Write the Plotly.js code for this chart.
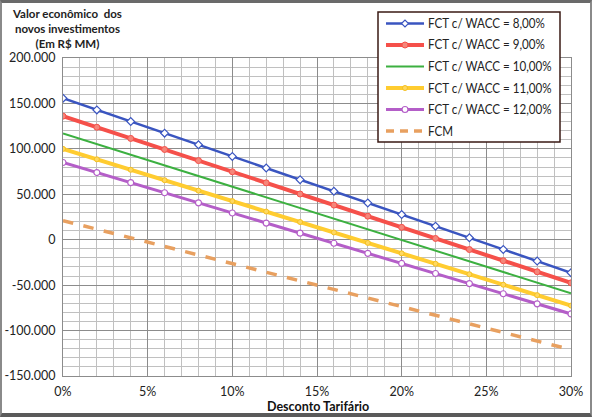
<!DOCTYPE html>
<html>
<head>
<meta charset="utf-8">
<script src="https://cdn.plot.ly/plotly-3.0.1.min.js"></script>
<style>
html,body{margin:0;padding:0;background:#fff;}
#chart{width:592px;height:417px;position:relative;}
#frame{position:absolute;left:0;top:0;width:592px;height:417px;box-sizing:border-box;border:2px solid #8a8a8a;border-top:3px solid #6a6a6a;border-bottom:4px solid #5a5a5a;pointer-events:none;}
</style>
</head>
<body>
<div id="chart"></div>
<div id="frame"></div>
<script>
// Desconto tarifário (%)
const desconto = [0, 2, 4, 6, 8, 10, 12, 14, 16, 18, 20, 22, 24, 26, 28, 30];
// Valor econômico (R$ MM)
const wacc8  = [155700, 142900, 130100, 117300, 104500, 91700, 78900, 66100, 53300, 40500, 27700, 14900, 2100, -10700, -23500, -36300];
const wacc9  = [136000, 123800, 111500, 99300, 87100, 74800, 62600, 50300, 38100, 25900, 13600, 1400, -10800, -23100, -35300, -47500];
const wacc10 = [117000, 105300, 93500, 81800, 70100, 58300, 46600, 34900, 23100, 11400, -300, -12000, -23800, -35500, -47200, -59000];
const wacc11 = [100000, 88500, 77000, 65500, 54000, 42500, 31000, 19500, 8000, -3500, -15000, -26500, -38000, -49500, -61000, -72500];
const wacc12 = [85000, 73900, 62800, 51700, 40600, 29400, 18300, 7200, -3900, -15000, -26100, -37200, -48300, -59500, -70600, -81700];
const fcm    = [21000, 11500, 2100, -7400, -16900, -26300, -35800, -45300, -54700, -64200, -73700, -83100, -92600, -102100, -111500, -121000];

const seriesNames = ["FCT c/ WACC = 8,00%", "FCT c/ WACC = 9,00%", "FCT c/ WACC = 10,00%", "FCT c/ WACC = 11,00%", "FCT c/ WACC = 12,00%", "FCM"];

const xTickVals = [0, 5, 10, 15, 20, 25, 30];
const xTickText = ["0%", "5%", "10%", "15%", "20%", "25%", "30%"];
const yTickVals = [200000, 150000, 100000, 50000, 0, -50000, -100000, -150000];
const yTickText = ["200.000", "150.000", "100.000", "50.000", "0", "-50.000", "-100.000", "-150.000"];

// styles
const styles = [
  {line: {color: "#3a55c0", width: 2.5}, marker: {symbol: "diamond", size: 6, color: "#ffffff", line: {color: "#3a55c0", width: 1.2}}},
  {line: {color: "#f5504a", width: 4}, marker: {symbol: "circle", size: 6, color: "#f5867a", line: {color: "#f5504a", width: 1}}},
  {line: {color: "#3cb040", width: 2}, marker: null},
  {line: {color: "#ffcc30", width: 4}, marker: {symbol: "circle", size: 5, color: "#ffd860", line: {color: "#f5c020", width: 1}}},
  {line: {color: "#b45ec8", width: 3}, marker: {symbol: "circle", size: 6, color: "#ffffff", line: {color: "#b45ec8", width: 1.2}}},
  {line: {color: "#e8a060", width: 3.5, dash: "dash"}, marker: null}
];
const seriesY = [wacc8, wacc9, wacc10, wacc11, wacc12, fcm];

const traces = seriesY.map((ys, i) => {
  const t = {x: desconto, y: ys, name: seriesNames[i], showlegend: false,
             mode: styles[i].marker ? "lines+markers" : "lines", line: styles[i].line};
  if (styles[i].marker) t.marker = styles[i].marker;
  return t;
});

// ---- custom legend (layout geometry, pixel -> paper) ----
const M = {l: 63, r: 21, t: 58, b: 41}, W = 592, H = 417;
const pw = W - M.l - M.r, ph = H - M.t - M.b;
const px = v => (v - M.l) / pw;
const py = v => (H - M.b - v) / ph;
const legRows = [23.5, 45, 66.5, 88, 109.5, 131];
const shapes = [{type: "rect", xref: "paper", yref: "paper",
  x0: px(378), x1: px(560), y0: py(142), y1: py(12),
  fillcolor: "#ffffff", line: {color: "#3a1a14", width: 1.5}, layer: "above"}];
const annotations = [];
legRows.forEach((ry, i) => {
  const st = styles[i];
  shapes.push({type: "line", xref: "paper", yref: "paper", layer: "above",
    x0: px(386), x1: px(424), y0: py(ry), y1: py(ry),
    line: {color: st.line.color, width: st.line.width, dash: st.line.dash ? "8px,6px" : "solid"}});
  if (st.marker) {
    const r = st.marker.size / 2;
    if (st.marker.symbol === "diamond") {
      const r2 = r + 0.5;
      shapes.push({type: "path", xref: "paper", yref: "paper", layer: "above",
        path: `M ${px(405 - r2)} ${py(ry)} L ${px(405)} ${py(ry - r2)} L ${px(405 + r2)} ${py(ry)} L ${px(405)} ${py(ry + r2)} Z`,
        fillcolor: st.marker.color, line: {color: st.marker.line.color, width: st.marker.line.width}});
    } else {
      shapes.push({type: "circle", xref: "paper", yref: "paper", layer: "above",
        x0: px(405 - r), x1: px(405 + r), y0: py(ry + r), y1: py(ry - r),
        fillcolor: st.marker.color, line: {color: st.marker.line.color, width: st.marker.line.width}});
    }
  }
  annotations.push({xref: "paper", yref: "paper", x: px(426), y: py(ry), xanchor: "left", yanchor: "middle",
    text: seriesNames[i], showarrow: false, font: {size: 12.5, color: "#222"}});
});
annotations.push({
  xref: "paper", yref: "paper", x: px(67), y: py(5), xanchor: "center", yanchor: "top",
  text: "<b>Valor econômico  dos<br>novos investimentos<br>(Em R$ MM)</b>",
  showarrow: false, align: "center", font: {size: 11.5, color: "#222"}
});
annotations.push({
  xref: "paper", yref: "paper", x: px(318), y: py(406), xanchor: "center", yanchor: "middle",
  text: "<b>Desconto Tarifário</b>", showarrow: false, font: {size: 12.5, color: "#111"}
});

const layout = {
  width: W, height: H,
  margin: M,
  paper_bgcolor: "#ffffff",
  plot_bgcolor: "#ffffff",
  font: {family: "Lato, 'Open Sans', sans-serif", size: 12, color: "#222"},
  showlegend: false,
  xaxis: {
    range: [0, 30], tickvals: xTickVals, ticktext: xTickText,
    showgrid: true, gridcolor: "#8c8c8c", gridwidth: 1,
    minor: {dtick: 1, showgrid: true, gridcolor: "#c0c0c0", gridwidth: 1},
    zeroline: false, showline: true, linecolor: "#8c8c8c", mirror: true,
    ticks: "", ticklabelstandoff: 4, tickfont: {size: 12.5, color: "#222"},
    fixedrange: true
  },
  yaxis: {
    range: [-150000, 200000], tickvals: yTickVals, ticktext: yTickText,
    showgrid: true, gridcolor: "#8c8c8c", gridwidth: 1,
    minor: {dtick: 10000, showgrid: true, gridcolor: "#c0c0c0", gridwidth: 1},
    zeroline: false, showline: true, linecolor: "#8c8c8c", mirror: true,
    ticks: "", ticklabelstandoff: 4, tickfont: {size: 12.5, color: "#222"},
    fixedrange: true
  },
  shapes: shapes,
  annotations: annotations
};

Plotly.newPlot("chart", traces, layout, {displayModeBar: false, staticPlot: true}).then(gd => {
  // condense legend texts horizontally to the narrow lettering of the original
  const texts = gd.querySelectorAll("g.annotation text.annotation-text");
  if (!texts.length) return;
  const target = 117; // width of "FCT c/ WACC = 8,00%" in the reference
  const w0 = texts[0].getBBox().width;
  const f = w0 > target ? target / w0 : 1;
  for (let i = 0; i < seriesNames.length && i < texts.length; i++) {
    const t = texts[i];
    const bb = t.getBBox();
    const x0 = bb.x;
    t.setAttribute("transform", `translate(${x0},0) scale(${f},1) translate(${-x0},0)`);
  }
});
</script>
</body>
</html>
